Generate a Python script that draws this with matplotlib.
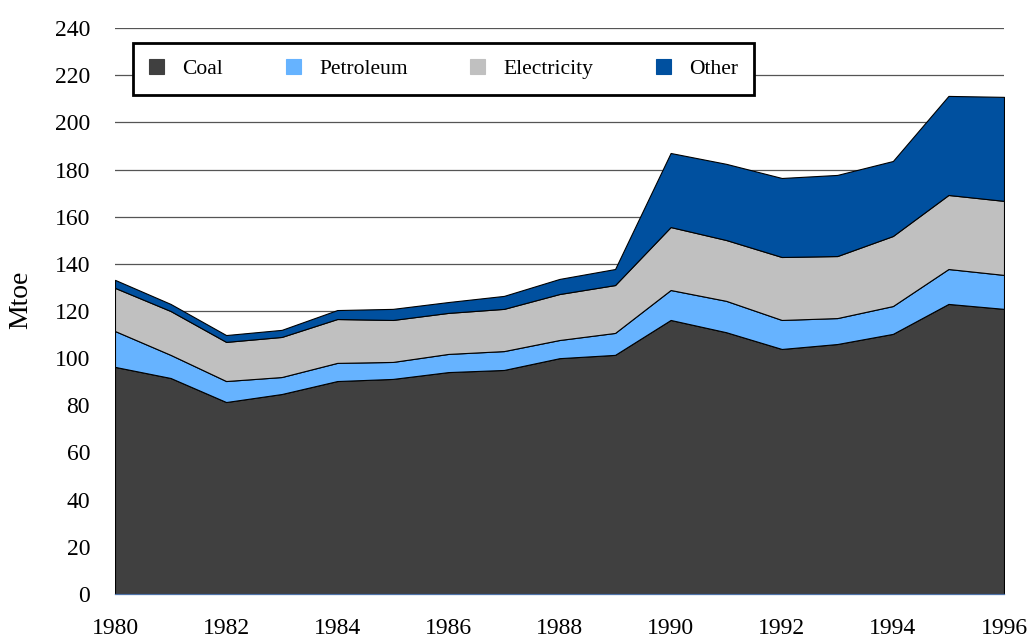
import matplotlib
matplotlib.use("Agg")
import matplotlib.pyplot as plt

plt.rcParams['font.family'] = ['Liberation Serif', 'DejaVu Serif']

# data (Mtoe)
years = list(range(1980, 1997))
coal = [96.3, 91.6, 81.4, 84.8, 90.3, 91.2, 94.1, 95.0, 100.0, 101.4,
        116.2, 111.0, 103.9, 106.0, 110.3, 123.0, 120.9]
petroleum = [15.2, 9.8, 8.9, 7.2, 7.7, 7.2, 7.7, 8.0, 7.7, 9.3,
             12.7, 13.3, 12.3, 11.0, 11.8, 14.8, 14.4]
electricity = [18.3, 18.6, 16.6, 17.0, 18.6, 17.8, 17.4, 17.9, 19.5, 20.3,
               26.7, 25.8, 26.7, 26.3, 29.7, 31.4, 31.4]
other = [3.4, 3.0, 2.9, 3.0, 3.8, 4.7, 4.6, 5.5, 6.4, 6.8,
         31.4, 32.3, 33.5, 34.4, 31.8, 42.0, 44.1]
labels = ['Coal', 'Petroleum', 'Electricity', 'Other']
colors = ['#404040', '#66b3ff', '#c0c0c0', '#00509f']

fig = plt.figure(figsize=(10.27, 6.39), dpi=100)
ax = fig.add_axes([115 / 1027, 45 / 639, 889 / 1027, 566 / 639])

polys = ax.stackplot(years, coal, petroleum, electricity, other,
                     colors=colors, labels=labels,
                     edgecolor='black', linewidth=0.8, zorder=2)

ax.set_xlim(1980, 1996)
ax.set_ylim(0, 240)
ax.set_xticks(range(1980, 1997, 2))
ax.set_yticks(range(0, 241, 20))
ax.yaxis.grid(True, color='#555555', linewidth=0.9, zorder=0)
ax.set_axisbelow(True)
ax.tick_params(axis='both', length=0, labelsize=17)
ax.tick_params(axis='x', pad=17)
ax.tick_params(axis='y', pad=18)

for s in ['top', 'right', 'left']:
    ax.spines[s].set_visible(False)
ax.spines['bottom'].set_color('#4f73a8')
ax.spines['bottom'].set_linewidth(0.9)
ax.spines['bottom'].set_zorder(3)

ax.set_ylabel('Mtoe', fontsize=20)
ax.yaxis.set_label_coords(-0.092, 0.52)

leg = ax.legend(loc='upper left', bbox_to_anchor=(0.0202, 0.9735), ncol=4,
                fontsize=15.5, frameon=True, fancybox=False,
                edgecolor='black', framealpha=1, borderpad=0.75,
                handlelength=0.7, handleheight=0.7, handletextpad=0.85,
                columnspacing=2.9, borderaxespad=0)
leg.get_frame().set_linewidth(2.0)
for h in leg.legend_handles:
    h.set_edgecolor(h.get_facecolor())

fig.savefig('out.png', dpi=100)
